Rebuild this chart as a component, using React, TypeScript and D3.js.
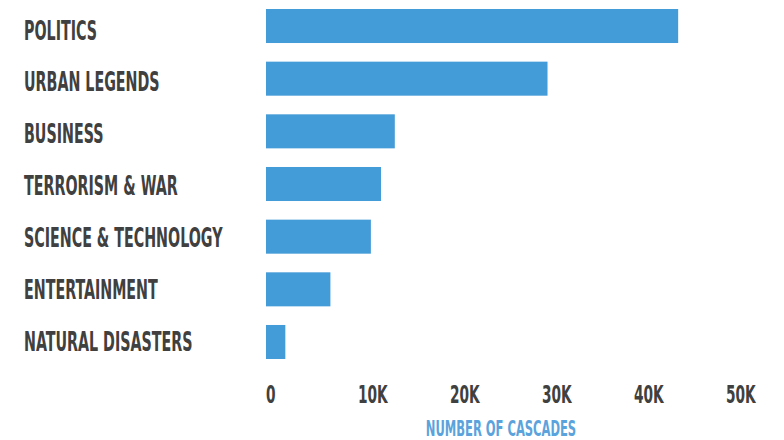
import React from "react";
import * as d3 from "d3";

const categories = [
  "POLITICS",
  "URBAN LEGENDS",
  "BUSINESS",
  "TERRORISM & WAR",
  "SCIENCE & TECHNOLOGY",
  "ENTERTAINMENT",
  "NATURAL DISASTERS",
];
const cascades = [44800, 30600, 14000, 12500, 11400, 7000, 2100];
const tickValues = [0, 10000, 20000, 30000, 40000, 50000];
const axisTitle = "NUMBER OF CASCADES";

const W = 784;
const H = 440;
const FONT = "'DejaVu Sans Condensed', 'Liberation Sans Narrow', 'Arial Narrow', sans-serif";
const SX = 0.61;

export default function App() {
  const x = d3.scaleLinear().domain([0, 50000]).range([266, 726]);
  const y = d3.scaleBand<string>().domain(categories).range([9, 359]).paddingInner(0.354).paddingOuter(0);
  const yLabel = d3.scalePoint<string>().domain(categories).range([30, 341]);
  const fmt = (v: number) => (v === 0 ? "0" : d3.format("d")(v / 1000) + "K");

  return (
    <svg width={W} height={H} style={{ position: "absolute", left: 0, top: 0, background: "#fff" }}>
      {categories.map((c, i) => (
        <g key={c}>
          <rect x={x(0)} y={y(c)} width={x(cascades[i]) - x(0)} height={y.bandwidth()} fill="#439bd7" />
          <g transform={`translate(24,${(yLabel(c) as number) + 9.5}) scale(${SX},1)`}>
            <text fontFamily={FONT} fontWeight="bold" fontSize={26} fill="#404040">
              {c}
            </text>
          </g>
        </g>
      ))}
      {tickValues.map((t) => (
        <g key={t} transform={`translate(${x(t)},403) scale(${SX},1)`}>
          <text fontFamily={FONT} fontWeight="bold" fontSize={25} fill="#404040">
            {fmt(t)}
          </text>
        </g>
      ))}
      <g transform={`translate(${x(25000) + 5},436) scale(${SX},1)`}>
        <text fontFamily={FONT} fontWeight="bold" fontSize={21} fill="#5ba3dc" textAnchor="middle">
          {axisTitle}
        </text>
      </g>
    </svg>
  );
}
